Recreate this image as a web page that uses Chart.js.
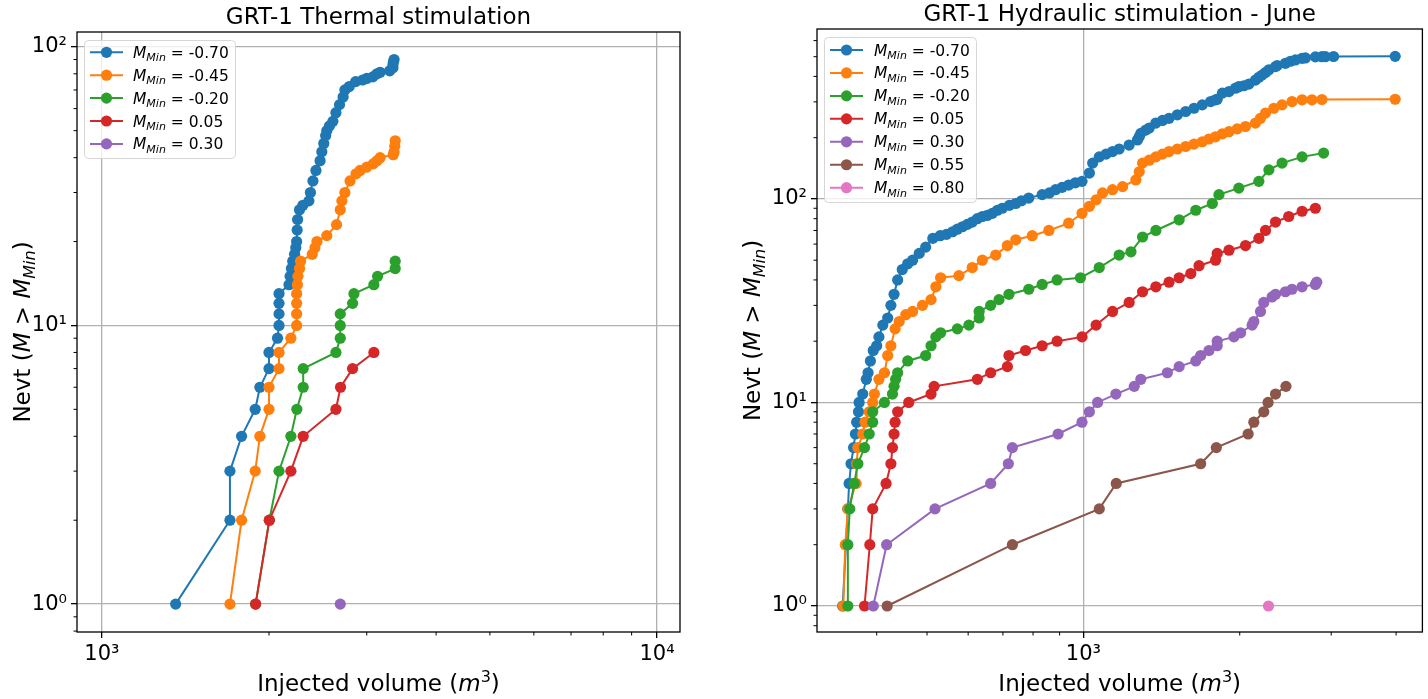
<!DOCTYPE html>
<html>
<head>
<meta charset="utf-8">
<script src="https://cdn.jsdelivr.net/npm/chart.js@4.4.1/dist/chart.umd.min.js"></script>
<style>
  html, body { margin: 0; padding: 0; background: #fff; }
  #wrap { position: relative; width: 1428px; height: 699px; }
  canvas { position: absolute; top: 0; }
</style>
</head>
<body>
<div id="wrap">
  <canvas id="thermal" width="714" height="699" style="left:0px"></canvas>
  <canvas id="hydraulic" width="714" height="699" style="left:714px"></canvas>
</div>
<script>
// ---- data: cumulative number of events vs injected volume (m3) ----
const colors = ['#1f77b4', '#ff7f0e', '#2ca02c', '#d62728', '#9467bd', '#8c564b', '#e377c2'];

// GRT-1 thermal stimulation
const thermalMmin = ['-0.70', '-0.45', '-0.20', '0.05', '0.30'];
const thermalVol070 = [1358,1701,1701,1785,1889,1926,2000,2000,2072,2085,2085,2085,2085,2173,2183,2195,2207,2224,2235,2243,2248,2252,2270,2302,2360,2375,2400,2430,2472,2490,2510,2530,2542,2570,2607,2640,2680,2720,2740,2790,2865,2950,3000,3077,3130,3171,3300,3344,3344,3350,3360];
const thermalN070   = [1,2,3,4,5,6,7,8,9,10,11,12,13,14,15,16,17,18,19,20,22,24,26,27,28,30,33,36,39,42,45,48,50,52,54,58,62,66,70,72,75,76,77,78,80,81,82,84,86,88,90];
const thermalVol045 = [1701,1785,1889,1926,2000,2000,2085,2085,2190,2243,2243,2243,2243,2250,2255,2270,2280,2393,2420,2440,2542,2647,2688,2706,2740,2799,2870,2918,3000,3081,3130,3171,3347,3360,3370,3376];
const thermalN045   = [1,2,3,4,5,6,7,8,9,10,11,12,13,14,15,16,17,18,19,20,21,23,26,28,30,33,35,36,37,38,39,40,41,42,44,46];
const thermalVol020 = [1892,2003,2085,2190,2245,2305,2305,2640,2688,2688,2688,2829,2845,3090,3138,3376,3376];
const thermalN020   = [1,2,3,4,5,6,7,8,9,10,11,12,13,14,15,16,17];
const thermalVol005 = [1892,2003,2190,2305,2640,2691,2829,3090];
const thermalN005   = [1,2,3,4,5,6,7,8];
const thermalVol030 = [2688];
const thermalN030   = [1];

// GRT-1 hydraulic stimulation - June
const hydraulicMmin = ['-0.70', '-0.45', '-0.20', '0.05', '0.30', '0.55', '0.80'];
const hydVol070 = [344,349,352,354,357,361,364,366,369,370,376,382,385,389,394,400,404,411,420,426,432,439,448,459,469,483,497,513,530,545,560,572,585,598,611,625,639,653,668,683,698,720,741,760,785,833,860,884,910,937,965,994,1027,1042,1073,1106,1138,1172,1225,1271,1281,1290,1319,1339,1379,1420,1462,1517,1574,1633,1694,1758,1797,1810,1852,1907,1963,1992,2037,2083,2145,2177,2208,2242,2276,2344,2361,2449,2504,2560,2637,2676,2797,2879,2923,3032,3984];
const hydN070   = [1,2,3,4,5,6,7,8,9,10,11,13,14,16,18,19,21,24,26,30,34,40,45,48,50,54,58,64,66,67,69,71,73,75,77,80,82,83,85,88,90,93,95,98,101,105,107,111,114,117,120,122,134,150,161,166,171,176,184,195,202,210,218,223,236,243,249,259,269,279,290,301,307,309,331,337,350,356,360,367,384,396,406,418,431,447,452,464,475,482,491,493,499,500,500,501,502];
const hydVol045 = [345,348,352,365,366,368,376,380,387,393,396,404,414,420,426,434,442,455,469,490,509,520,531,576,611,639,678,714,741,797,858,937,994,1027,1058,1089,1138,1190,1262,1281,1300,1339,1379,1420,1462,1517,1574,1633,1694,1745,1797,1852,1907,1978,2052,2145,2193,2242,2326,2413,2522,2637,2755,2879,3984];
const hydN045   = [1,2,3,4,5,6,7,8,9,10,11,13,14,17,19,23,25,27,28,30,32,37,41,42,46,50,53,59,63,66,70,76,85,92,99,107,111,115,124,136,150,155,161,166,171,176,181,186,191,197,202,209,214,221,227,236,249,264,279,290,301,307,307,308,309];
const hydVol020 = [352,352,355,362,368,379,387,393,393,414,429,432,435,439,459,497,509,520,531,572,602,630,630,663,688,719,785,833,890,987,1073,1172,1235,1300,1379,1529,1646,1771,1824,1992,2177,2276,2413,2637,2901];
const hydN020   = [1,2,3,4,5,6,7,8,9,10,11,12,13,14,16,17,19,21,22,23,24,26,28,30,32,34,36,38,40,41,46,53,55,65,70,79,88,95,105,113,122,139,150,161,168];
const hydVol005 = [379,388,393,417,426,429,432,434,439,461,509,516,625,663,714,719,774,833,890,994,1058,1138,1225,1300,1379,1462,1529,1610,1670,1797,1810,1907,2052,2177,2242,2344,2485,2637,2797];
const hydN005   = [1,2,3,4,5,6,7,8,9,10,11,12,13,14,15,17,18,19,20,21,24,28,31,35,37,39,41,43,47,50,54,56,59,64,70,77,82,87,90];
const hydVol030 = [394,418,518,663,717,730,894,994,1027,1065,1155,1253,1290,1451,1529,1646,1682,1745,1810,1810,1949,2008,2113,2129,2193,2225,2308,2344,2449,2522,2637,2797,2814];
const hydN030   = [1,2,3,4,5,6,7,8,9,10,11,12,13,14,15,16,17,18,19,20,21,22,24,25,28,31,33,34,35,36,37,38,39];
const hydVol055 = [419,730,1073,1157,1682,1803,2076,2129,2225,2268,2344,2455];
const hydN055   = [1,2,3,4,5,6,7,8,9,10,11,12];
const hydVol080 = [2272];
const hydN080   = [1];

// axis ticks
const thermalXMajor = [1000, 10000];
const thermalXMinor = [2000,3000,4000,5000,6000,7000,8000,9000];
const thermalYMajor = [1, 10, 100];
const thermalYMinor = [0.8,0.9,2,3,4,5,6,7,8,9,20,30,40,50,60,70,80,90];
const hydXMajor = [1000];
const hydXMinor = [400,500,600,700,800,900,2000,3000,4000];
const hydYMajor = [1, 10, 100];
const hydYMinor = [0.8,0.9,2,3,4,5,6,7,8,9,20,30,40,50,60,70,80,90,200,300,400,500,600];

// ---- helpers ----
const FAM = '"DejaVu Sans", sans-serif';
const sup = { '0': '\u2070', '1': '\u00b9', '2': '\u00b2', '3': '\u00b3', '4': '\u2074' };

function drawRich(ctx, parts, x, y, align) {
  let w = 0;
  parts.forEach(p => {
    ctx.font = (p.italic ? 'italic ' : '') + p.size + 'px ' + FAM;
    p.w = ctx.measureText(p.t).width;
    w += p.w;
  });
  let cx = align === 'center' ? x - w / 2 : x;
  parts.forEach(p => {
    ctx.font = (p.italic ? 'italic ' : '') + p.size + 'px ' + FAM;
    ctx.fillText(p.t, cx, y + (p.dy || 0));
    cx += p.w;
  });
}

function makeSets(vols, counts, labels) {
  return vols.map((v, i) => ({
    label: labels[i],
    data: v.map((x, j) => ({ x: x, y: counts[i][j] })),
    showLine: true,
    borderColor: colors[i],
    backgroundColor: colors[i],
    pointBackgroundColor: colors[i],
    pointBorderColor: colors[i],
    borderWidth: 2,
    pointRadius: 5.6,
    pointBorderWidth: 0,
    order: vols.length - i
  }));
}

function logAxis(min, max, majors, minors, isX, fit) {
  return {
    type: 'logarithmic',
    min: min, max: max,
    bounds: 'data',
    afterBuildTicks: s => {
      s.ticks = majors.filter(v => v >= min && v <= max).map(v => ({ value: v, major: true }));
    },
    afterFit: s => { if (isX) s.height = fit; else s.width = fit; },
    ticks: {
      autoSkip: false, maxRotation: 0, padding: 4, color: '#000',
      font: { family: FAM, size: 21 },
      callback: v => '10' + String(Math.round(Math.log10(v))).split('').map(c => sup[c]).join('')
    },
    grid: { color: '#b0b0b0', lineWidth: 1.3, tickLength: 6, tickColor: '#000', tickWidth: 1.3 },
    border: { display: false }
  };
}

const decorPlugin = {
  id: 'decor',
  afterDatasetsDraw(chart, args, o) {
    const ctx = chart.ctx, a = chart.chartArea;
    const xs = chart.scales.x, ys = chart.scales.y;
    ctx.save();
    // minor ticks
    ctx.strokeStyle = '#000';
    ctx.lineWidth = 1;
    ctx.beginPath();
    o.xMinor.forEach(v => {
      const px = xs.getPixelForValue(v);
      ctx.moveTo(px, a.bottom); ctx.lineTo(px, a.bottom + 3.5);
    });
    o.yMinor.forEach(v => {
      if (v < ys.min || v > ys.max) return;
      const py = ys.getPixelForValue(v);
      ctx.moveTo(a.left - 3.5, py); ctx.lineTo(a.left, py);
    });
    ctx.stroke();
    // frame
    ctx.lineWidth = 1.3;
    ctx.strokeRect(a.left, a.top, a.right - a.left, a.bottom - a.top);
    // titles
    ctx.fillStyle = '#000';
    ctx.textBaseline = 'alphabetic';
    const cx = (a.left + a.right) / 2;
    drawRich(ctx, [{ t: o.title, size: 23 }], cx, o.titleY, 'center');
    drawRich(ctx, [
      { t: 'Injected volume (', size: 23 },
      { t: 'm', size: 23, italic: true },
      { t: '3', size: 16, dy: -9 },
      { t: ')', size: 23 }
    ], cx, 691, 'center');
    ctx.save();
    ctx.translate(o.yTitleX, (a.top + a.bottom) / 2);
    ctx.rotate(-Math.PI / 2);
    drawRich(ctx, [
      { t: 'Nevt (', size: 23 },
      { t: 'M', size: 23, italic: true },
      { t: ' > ', size: 23 },
      { t: 'M', size: 23, italic: true },
      { t: 'Min', size: 16, italic: true, dy: 5 },
      { t: ')', size: 23 }
    ], 0, 0, 'center');
    ctx.restore();
    // legend
    const L = o.legend;
    ctx.beginPath();
    ctx.roundRect(L.x + 0.5, L.y + 0.5, L.w, L.h, 4);
    ctx.fillStyle = 'rgba(255,255,255,0.8)';
    ctx.fill();
    ctx.strokeStyle = '#d6d6d6';
    ctx.lineWidth = 1;
    ctx.stroke();
    chart.data.datasets.forEach((ds, i) => {
      const y = L.row0 + i * L.step;
      ctx.strokeStyle = ds.borderColor;
      ctx.lineWidth = 2;
      ctx.beginPath(); ctx.moveTo(L.lx0, y); ctx.lineTo(L.lx1, y); ctx.stroke();
      ctx.fillStyle = ds.borderColor;
      ctx.beginPath(); ctx.arc((L.lx0 + L.lx1) / 2, y, 5.6, 0, Math.PI * 2); ctx.fill();
      ctx.fillStyle = '#000';
      drawRich(ctx, [
        { t: 'M', size: 15.5, italic: true },
        { t: 'Min', size: 11, italic: true, dy: 3.5 },
        { t: ' = ' + ds.label, size: 15.5 }
      ], L.tx, y + 5.5, 'left');
    });
    ctx.restore();
  }
};

function makeChart(id, sets, xr, yr, xMaj, xMin, yMaj, yMin, pad, yFit, decor) {
  return new Chart(document.getElementById(id).getContext('2d'), {
    type: 'scatter',
    data: { datasets: sets },
    options: {
      responsive: false,
      animation: false,
      devicePixelRatio: 1,
      events: [],
      layout: { padding: pad },
      scales: {
        x: logAxis(xr[0], xr[1], xMaj, xMin, true, 67),
        y: logAxis(yr[0], yr[1], yMaj, yMin, false, yFit)
      },
      plugins: { legend: { display: false }, tooltip: { enabled: false }, decor: decor }
    },
    plugins: [decorPlugin]
  });
}

makeChart('thermal',
  makeSets([thermalVol070, thermalVol045, thermalVol020, thermalVol005, thermalVol030],
           [thermalN070, thermalN045, thermalN020, thermalN005, thermalN030], thermalMmin),
  [902, 11000], [0.794, 113], thermalXMajor, thermalXMinor, thermalYMajor, thermalYMinor,
  { top: 32, right: 34, left: 0, bottom: 0 }, 77,
  { title: 'GRT-1 Thermal stimulation', titleY: 24, yTitleX: 30, xMinor: thermalXMinor, yMinor: thermalYMinor,
    legend: { x: 84, y: 40, w: 151, h: 118, row0: 52.3, step: 22.9, lx0: 90, lx1: 123, tx: 133 } });

makeChart('hydraulic',
  makeSets([hydVol070, hydVol045, hydVol020, hydVol005, hydVol030, hydVol055, hydVol080],
           [hydN070, hydN045, hydN020, hydN005, hydN030, hydN055, hydN080], hydraulicMmin),
  [307, 4495], [0.745, 684], hydXMajor, hydXMinor, hydYMajor, hydYMinor,
  { top: 29, right: 4, left: 0, bottom: 0 }, 103,
  { title: 'GRT-1 Hydraulic stimulation - June', titleY: 21, yTitleX: 46, xMinor: hydXMinor, yMinor: hydYMinor,
    legend: { x: 110, y: 37, w: 152, h: 165, row0: 50, step: 22.95, lx0: 116, lx1: 149, tx: 160 } });
</script>
</body>
</html>
